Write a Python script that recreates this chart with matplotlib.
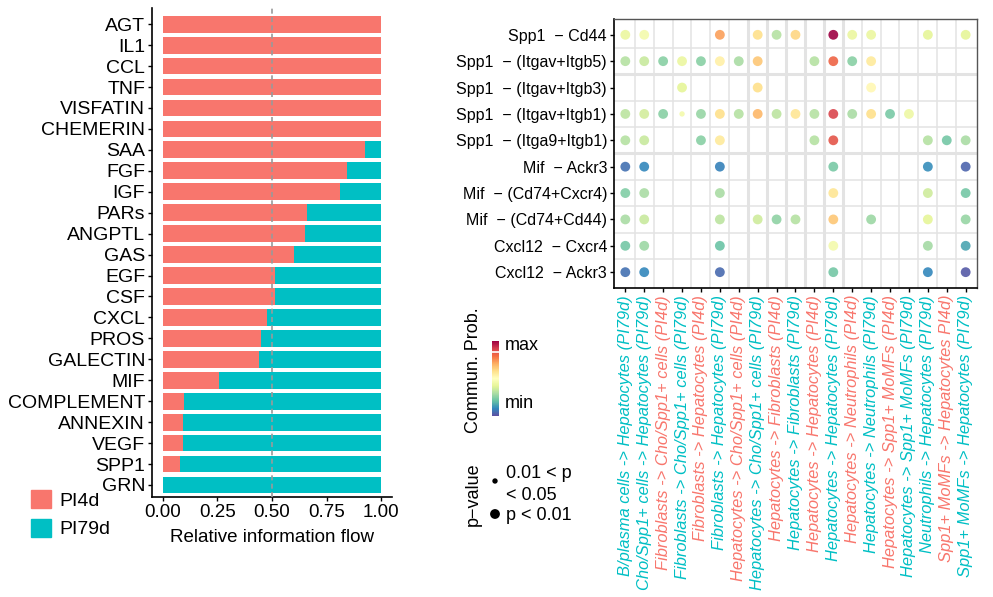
import numpy as np
import matplotlib
matplotlib.use("Agg")
import matplotlib.pyplot as plt
from matplotlib.patches import Patch

plt.rcParams['font.family'] = ['Liberation Sans', 'DejaVu Sans']

# === left panel: relative information flow per pathway ===
pathways = ["AGT", "IL1", "CCL", "TNF", "VISFATIN", "CHEMERIN", "SAA", "FGF", "IGF",
            "PARs", "ANGPTL", "GAS", "EGF", "CSF", "CXCL", "PROS", "GALECTIN", "MIF",
            "COMPLEMENT", "ANNEXIN", "VEGF", "SPP1", "GRN"]
pi4d = [1.0, 1.0, 1.0, 1.0, 1.0, 1.0, 0.928, 0.843, 0.81, 0.66, 0.653, 0.60, 0.515,
        0.515, 0.477, 0.45, 0.441, 0.258, 0.097, 0.094, 0.094, 0.079, 0.0]
pi79d = [0.0, 0.0, 0.0, 0.0, 0.0, 0.0, 0.072, 0.157, 0.19, 0.34, 0.347, 0.40, 0.485,
         0.485, 0.523, 0.55, 0.559, 0.742, 0.903, 0.906, 0.906, 0.921, 1.0]

# === right panel: bubble plot ===
pairs = ["Spp1  \u2212 Cd44", "Spp1  \u2212 (Itgav+Itgb5)", "Spp1  \u2212 (Itgav+Itgb3)",
         "Spp1  \u2212 (Itgav+Itgb1)", "Spp1  \u2212 (Itga9+Itgb1)", "Mif  \u2212 Ackr3",
         "Mif  \u2212 (Cd74+Cxcr4)", "Mif  \u2212 (Cd74+Cd44)", "Cxcl12  \u2212 Cxcr4",
         "Cxcl12  \u2212 Ackr3"]
groups = ["B/plasma cells -> Hepatocytes (PI79d)",
          "Cho/Spp1+ cells -> Hepatocytes (PI79d)",
          "Fibroblasts -> Cho/Spp1+ cells (PI4d)",
          "Fibroblasts -> Cho/Spp1+ cells (PI79d)",
          "Fibroblasts -> Hepatocytes (PI4d)",
          "Fibroblasts -> Hepatocytes (PI79d)",
          "Hepatocytes -> Cho/Spp1+ cells (PI4d)",
          "Hepatocytes -> Cho/Spp1+ cells (PI79d)",
          "Hepatocytes -> Fibroblasts (PI4d)",
          "Hepatocytes -> Fibroblasts (PI79d)",
          "Hepatocytes -> Hepatocytes (PI4d)",
          "Hepatocytes -> Hepatocytes (PI79d)",
          "Hepatocytes -> Neutrophils (PI4d)",
          "Hepatocytes -> Neutrophils (PI79d)",
          "Hepatocytes -> Spp1+ MoMFs (PI4d)",
          "Hepatocytes -> Spp1+ MoMFs (PI79d)",
          "Neutrophils -> Hepatocytes (PI79d)",
          "Spp1+ MoMFs -> Hepatocytes PI4d)",
          "Spp1+ MoMFs -> Hepatocytes (PI79d)"]
group_cond = ["PI79d", "PI79d", "PI4d", "PI79d", "PI4d", "PI79d", "PI4d", "PI79d", "PI4d",
              "PI79d", "PI4d", "PI79d", "PI4d", "PI79d", "PI4d", "PI79d", "PI79d", "PI4d",
              "PI79d"]

n = np.nan
# scaled communication probability (0 = min, 1 = max), nan = no interaction
prob = [
    [.42, .45, n, n, n, .72, n, .60, .32, .62, n, 1.0, .42, .42, n, n, .40, n, .40],
    [.32, .35, .25, .42, .25, .55, .30, .65, n, n, .32, .82, .25, .57, n, n, n, n, n],
    [n, n, n, .40, n, n, n, .60, n, n, n, n, n, .52, n, n, n, n, n],
    [.33, .37, .25, .45, .27, .60, .32, .68, .33, .58, .32, .88, .30, .60, .23, .43, n, n, n],
    [.32, .35, n, n, .25, .57, n, n, n, n, .32, .85, n, n, n, n, .32, .22, .30],
    [.06, .10, n, n, n, .09, n, n, n, n, n, .23, n, n, n, n, .11, n, .04],
    [.24, .30, n, n, n, .30, n, n, n, n, n, .58, n, n, n, n, .36, n, .22],
    [.30, .35, n, n, n, .33, n, .36, .26, .32, n, .65, n, .28, n, n, .40, n, .27],
    [.22, .28, n, n, n, .21, n, n, n, n, n, .45, n, n, n, n, .29, n, .15],
    [.06, .10, n, n, n, .05, n, n, n, n, n, .22, n, n, n, n, .10, n, .02],
]
# (row, col) of dots with 0.01 < p < 0.05, all others p < 0.01
weak_p = [(3, 3)]

cond_colors = {"PI4d": "#F8766D", "PI79d": "#00BFC4"}

fig = plt.figure(figsize=(9.93, 5.97), dpi=100)

# ---------- left: stacked bars ----------
ax1 = fig.add_axes([0.1531, 0.168, 0.2417, 0.8181])
y = np.arange(len(pathways))
ax1.barh(y, pi4d, height=0.8, color=cond_colors["PI4d"])
ax1.barh(y, pi79d, left=pi4d, height=0.8, color=cond_colors["PI79d"])
ax1.axvline(0.5, ls=(0, (3, 2)), color="#9a9a9a", lw=1.2, zorder=3)
ax1.set_xlim(-0.05, 1.05)
ax1.set_ylim(len(pathways) - 0.44, -0.76)
ax1.set_yticks(y)
ax1.set_yticklabels(pathways, fontsize=14, color="black")
ax1.set_xticks([0, 0.25, 0.5, 0.75, 1.0])
ax1.set_xticklabels(["0.00", "0.25", "0.50", "0.75", "1.00"], fontsize=13.5)
ax1.set_xlabel("Relative information flow", fontsize=13.5, labelpad=6)
for s in ["top", "right"]:
    ax1.spines[s].set_visible(False)
for s in ["left", "bottom"]:
    ax1.spines[s].set_linewidth(1.2)
ax1.tick_params(length=3, width=1, pad=2)

handles = [Patch(color=cond_colors["PI4d"], label="PI4d"),
           Patch(color=cond_colors["PI79d"], label="PI79d")]
fig.legend(handles=handles, loc="upper left", bbox_to_anchor=(0.023, 0.192),
           frameon=False, fontsize=14, handlelength=1.05, handleheight=1.05,
           handletextpad=0.45, labelspacing=0.45, borderaxespad=0)

# ---------- right: bubble plot ----------
ax2 = fig.add_axes([0.6183, 0.5176, 0.3656, 0.4506])
ax2.set_xlim(-0.6, len(groups) - 0.4)
ax2.set_ylim(len(pairs) - 0.4, -0.6)

for xv in np.arange(0.5, len(groups) - 1, 1):
    thick = 6.5 <= xv <= 11.5
    ax2.axvline(xv, color="#e3e3e3", lw=2.2 if thick else 1.1, zorder=0)
for yv in np.arange(0.5, len(pairs) - 1, 1):
    thick = yv in (1.5, 4.5)
    ax2.axhline(yv, color="#e3e3e3", lw=2.2 if thick else 1.1, zorder=0)

xs, ys, vals, sizes = [], [], [], []
for i, row in enumerate(prob):
    for j, v in enumerate(row):
        if np.isnan(v):
            continue
        xs.append(j)
        ys.append(i)
        vals.append(v)
        sizes.append(15 if (i, j) in weak_p else 50)
ax2.scatter(xs, ys, c=vals, s=sizes, cmap="Spectral_r", vmin=0, vmax=1,
            linewidths=0, alpha=0.9, zorder=2)

ax2.set_yticks(range(len(pairs)))
ax2.set_yticklabels(pairs, fontsize=11.5)
ax2.set_xticks(range(len(groups)))
ax2.set_xticklabels(groups, rotation=90, fontsize=11.9, style="italic",
                    ha="center", va="top")
for lab, cond in zip(ax2.get_xticklabels(), group_cond):
    lab.set_color(cond_colors[cond])
ax2.tick_params(length=3, width=1, pad=2)
for s in ["left", "bottom"]:
    ax2.spines[s].set_color("black")
    ax2.spines[s].set_linewidth(1.2)
for s in ["top", "right"]:
    ax2.spines[s].set_color("#555555")
    ax2.spines[s].set_linewidth(1.0)

# ---------- colour legend ----------
cax = fig.add_axes([492 / 993, 1 - 416 / 597, 7 / 993, 75 / 597])
sm = plt.cm.ScalarMappable(cmap="Spectral_r", norm=plt.Normalize(0, 1))
cb = fig.colorbar(sm, cax=cax)
cb.outline.set_visible(False)
cb.set_ticks([])
cax.axhline(0.85, color="white", lw=1.2)
fig.text(505 / 993, 1 - 346 / 597, "max", fontsize=13, va="center")
fig.text(505 / 993, 1 - 404 / 597, "min", fontsize=13, va="center")
fig.text(473 / 993, 1 - 370 / 597, "Commun. Prob.", fontsize=13, rotation=90,
         ha="center", va="center")

# ---------- p-value legend ----------
fig.text(473 / 993, 1 - 494 / 597, "p\u2212value", fontsize=13, rotation=90,
         ha="center", va="center")
fig.text(506 / 993, 1 - 473 / 597, "0.01 < p", fontsize=13, va="center")
fig.text(506 / 993, 1 - 495 / 597, "< 0.05", fontsize=13, va="center")
fig.text(506 / 993, 1 - 516 / 597, "p < 0.01", fontsize=13, va="center")
lax = fig.add_axes([0, 0, 1, 1], facecolor="none")
lax.set_xlim(0, 993)
lax.set_ylim(597, 0)
lax.axis("off")
lax.scatter([495, 495], [481, 514], s=[15, 50], color="black", linewidths=0)

fig.savefig("out.png", dpi=100)
